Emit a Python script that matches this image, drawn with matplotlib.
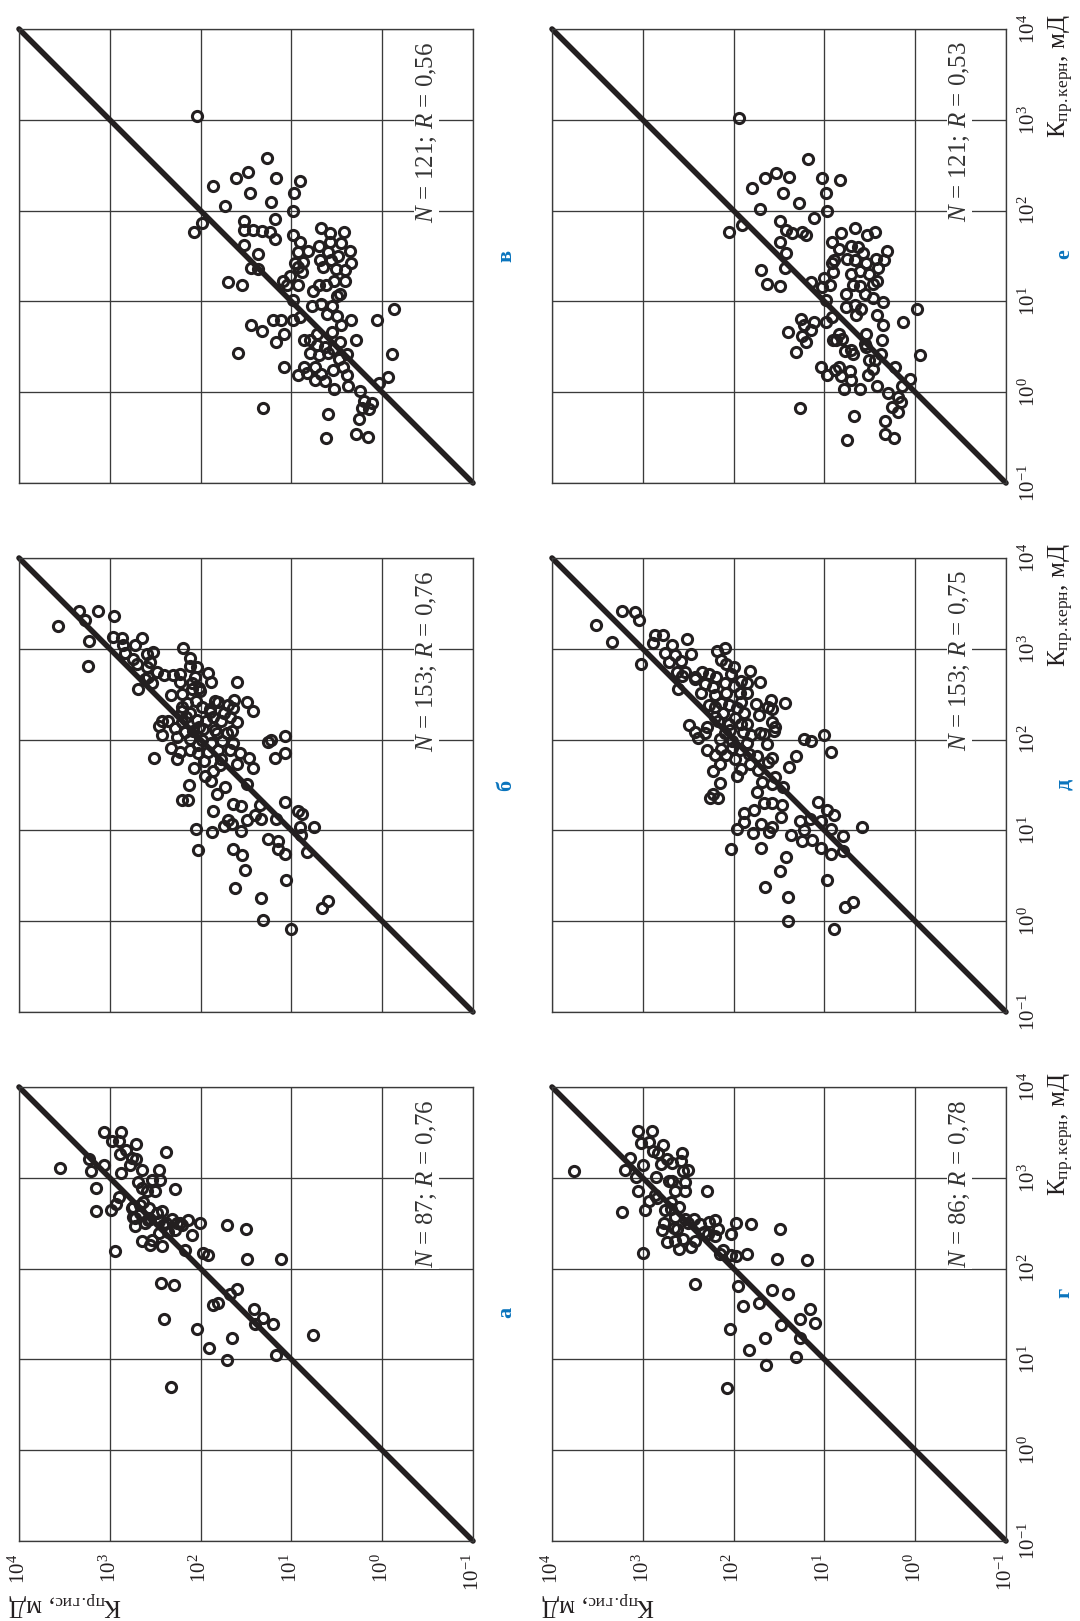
import numpy as np
import matplotlib
matplotlib.use('Agg')
import matplotlib.pyplot as plt
from matplotlib.ticker import FixedLocator, NullLocator

plt.rcParams['font.family'] = ['Liberation Serif', 'DejaVu Serif']
plt.rcParams['mathtext.fontset'] = 'custom'
plt.rcParams['mathtext.rm'] = 'Liberation Serif'
plt.rcParams['mathtext.it'] = 'Liberation Serif:italic'
plt.rcParams['mathtext.bf'] = 'Liberation Serif:bold'

# ---------------- data (log10 of permeability, mD) ----------------
# panel а
a_gis = [3.55,3.23,3.21,3.15,3.15,3.06,3.06,2.98,2.88,2.90,2.89,2.88,2.82,2.71,2.71,2.78,2.65,2.69,2.65,2.59,
         2.50,2.54,2.46,2.45,2.38,2.28,2.90,2.93,2.99,2.74,2.67,2.57,2.43,2.75,2.67,2.61,2.56,2.46,2.38,2.32,
         2.26,2.20,2.14,2.01,1.71,1.50,2.72,2.65,2.54,2.56,2.43,2.46,2.36,2.28,2.10,2.17,2.94,1.97,1.92,1.49,
         1.12,2.44,2.29,1.60,1.68,1.81,1.86,1.41,1.31,1.40,1.20,2.40,2.04,1.65,0.76,1.91,1.71,1.17,2.33,2.76,
         2.63,2.72,2.58,2.48,2.41,2.23,2.76]
a_kern = [3.11,3.21,3.08,2.89,2.63,3.50,3.14,3.41,3.50,3.40,3.26,3.05,3.31,3.37,3.21,3.14,3.09,2.95,2.89,2.86,
          2.86,2.98,3.09,2.98,3.28,2.88,2.79,2.71,2.65,2.68,2.70,2.67,2.63,2.57,2.61,2.50,2.55,2.52,2.50,2.55,
          2.50,2.48,2.53,2.50,2.48,2.44,2.47,2.30,2.32,2.26,2.25,2.39,2.40,2.42,2.37,2.21,2.19,2.17,2.15,2.11,
          2.11,1.84,1.82,1.77,1.72,1.62,1.60,1.56,1.46,1.39,1.39,1.44,1.34,1.24,1.27,1.13,0.99,1.05,0.70,2.67,
          2.73,2.56,2.53,2.61,2.48,2.50,3.22]

# panel б
b_gis = [3.57,3.34,3.27,3.13,2.95,3.23,3.24,2.97,2.87,2.85,2.64,2.72,2.83,2.75,2.59,2.52,2.56,2.70,2.59,2.48,
         2.40,2.61,2.53,2.69,2.19,2.12,2.04,2.23,2.12,1.92,1.89,1.60,2.23,2.09,2.02,2.33,2.21,2.15,2.05,1.84,
         1.70,1.63,1.49,1.42,1.64,1.74,1.90,1.99,2.12,2.21,2.42,2.46,2.42,2.28,2.20,2.04,1.94,1.86,1.68,1.60,
         1.65,1.84,1.97,2.08,2.17,2.12,1.98,1.88,1.76,1.64,1.68,1.81,1.92,2.03,2.12,2.23,2.33,2.26,2.51,1.77,
         1.60,1.47,1.42,2.07,1.95,1.86,1.88,1.73,1.82,1.49,2.13,2.20,2.14,1.86,1.64,1.56,1.35,1.07,0.93,0.88,
         1.40,1.49,1.33,1.17,1.70,1.74,1.65,1.55,1.87,2.05,0.90,0.75,0.89,1.26,1.15,1.15,1.07,0.83,1.64,1.54,
         2.03,1.51,1.06,1.62,1.33,1.31,1.00,0.66,0.60,1.07,1.26,1.22,1.07,1.18,2.30,2.06,2.01,1.81,1.90,1.78,
         2.02,2.16,2.26,2.03,1.82,1.71,1.96,1.79,2.21,2.36,2.58,1.57,2.10]
b_kern = [3.25,3.42,3.32,3.42,3.36,3.09,2.81,3.13,3.12,3.04,3.12,3.04,2.95,2.89,2.94,2.96,2.85,2.83,2.80,2.74,
          2.71,2.67,2.62,2.56,3.01,2.90,2.80,2.72,2.81,2.73,2.63,2.63,2.63,2.62,2.57,2.49,2.50,2.40,2.43,2.42,
          2.38,2.44,2.41,2.32,2.35,2.29,2.30,2.36,2.29,2.31,2.21,2.15,2.05,2.13,2.19,2.22,2.20,2.25,2.25,2.19,
          2.10,2.11,2.12,2.09,2.08,2.01,2.00,1.96,1.99,1.96,1.89,1.88,1.86,1.85,1.89,1.86,1.91,1.79,1.80,1.79,
          1.73,1.80,1.69,1.69,1.60,1.65,1.54,1.48,1.40,1.51,1.50,1.34,1.34,1.21,1.29,1.27,1.28,1.31,1.21,1.18,
          1.17,1.11,1.13,1.13,1.12,1.05,1.07,0.99,0.98,1.01,1.04,1.04,0.95,0.91,0.88,0.80,0.74,0.76,0.79,0.73,
          0.78,0.56,0.45,0.37,0.26,0.01,-0.09,0.15,0.22,2.04,1.97,2.00,1.85,1.80,2.71,2.69,2.54,2.41,2.34,2.21,
          2.14,2.25,2.03,1.94,2.07,2.07,1.76,1.72,2.36,2.21,2.69,1.85,2.56]

# panel в
v_gis = [2.04,1.27,1.61,1.48,1.17,0.90,1.86,1.46,0.97,1.73,1.23,0.98,1.52,1.18,1.98,2.07,1.52,1.42,1.32,1.24,
         1.18,1.52,1.37,1.45,1.37,1.70,1.54,0.98,0.91,0.67,0.58,0.42,0.58,0.70,0.82,0.93,0.36,0.60,0.49,0.68,
         0.56,0.34,0.87,0.93,0.51,0.41,0.88,1.01,1.09,1.05,0.93,0.70,0.62,0.53,0.41,0.50,0.98,0.77,0.67,0.55,
         0.61,0.50,0.34,0.45,-0.13,0.06,0.91,0.98,1.20,1.11,1.45,1.32,1.08,1.17,0.55,0.86,0.80,0.72,0.63,0.47,
         0.29,0.54,0.79,0.70,0.60,0.48,1.59,-0.11,1.08,0.86,0.74,0.93,0.83,0.67,0.54,0.43,0.39,0.74,0.63,0.53,
         0.38,0.25,0.03,-0.06,0.20,0.11,0.22,0.14,1.31,0.60,0.26,0.29,0.16,0.62,0.47,0.76,0.39,0.65,0.45,0.72,
         0.96]
v_kern = [3.04,2.58,2.36,2.42,2.36,2.33,2.27,2.19,2.19,2.05,2.09,2.00,1.89,1.91,1.86,1.76,1.79,1.79,1.78,1.76,
          1.69,1.62,1.52,1.37,1.36,1.21,1.18,1.73,1.65,1.81,1.75,1.76,1.65,1.61,1.56,1.54,1.55,1.54,1.50,1.46,
          1.46,1.42,1.43,1.38,1.36,1.35,1.32,1.28,1.23,1.18,1.18,1.18,1.18,1.23,1.22,1.06,1.02,0.95,0.97,0.95,
          0.86,0.84,0.79,0.74,0.92,0.79,0.83,0.79,0.80,0.79,0.74,0.67,0.64,0.55,0.66,0.57,0.58,0.52,0.50,0.55,
          0.58,0.48,0.43,0.41,0.43,0.37,0.43,0.42,0.28,0.28,0.28,0.19,0.21,0.20,0.24,0.28,0.19,0.13,0.12,0.04,
          0.07,0.01,0.10,0.17,-0.10,-0.12,-0.17,-0.18,-0.17,-0.24,-0.29,-0.46,-0.49,-0.50,1.08,1.12,0.42,1.38,1.64,0.64,
          1.42]

# panel г
g_gis = [3.76,3.20,3.14,3.23,3.05,2.90,3.02,2.93,2.78,2.83,2.73,2.57,2.68,2.80,3.00,2.86,2.68,2.56,2.50,2.54,
         2.64,2.54,3.05,2.29,2.93,2.84,2.98,2.76,2.69,2.60,2.64,2.54,2.44,2.77,2.66,2.37,2.27,2.21,2.17,2.28,
         2.21,1.97,1.81,1.49,2.03,2.56,2.73,2.65,2.60,2.47,3.00,2.12,2.03,1.97,1.85,1.52,1.19,2.43,1.95,1.58,
         1.40,1.72,1.90,1.16,1.27,1.48,1.10,2.04,1.65,1.27,1.83,1.31,1.64,2.07,2.71,2.87,2.69,2.62,2.50,2.33,
         2.42,2.89,3.08,2.58,2.79,2.15]
g_kern = [3.08,3.09,3.22,2.62,3.51,3.51,3.38,3.39,3.36,3.27,3.21,3.27,3.16,3.15,3.14,3.01,2.96,3.07,3.09,2.95,
          2.85,2.86,2.86,2.86,2.74,2.78,2.64,2.64,2.66,2.68,2.57,2.55,2.55,2.50,2.45,2.49,2.51,2.53,2.44,2.38,
          2.36,2.50,2.49,2.44,2.38,2.33,2.29,2.30,2.22,2.24,2.17,2.21,2.15,2.14,2.16,2.11,2.09,1.83,1.81,1.76,
          1.72,1.62,1.59,1.55,1.45,1.38,1.40,1.34,1.24,1.24,1.10,1.03,0.94,0.68,2.97,2.81,2.73,2.44,2.50,2.40,
          2.30,3.30,3.01,3.18,2.42,2.16]

# panel д
d_gis = [3.51,3.34,3.23,3.09,3.04,3.02,2.89,2.87,2.78,2.68,2.51,2.47,2.76,2.65,2.71,2.58,2.57,2.61,2.43,2.35,
         2.27,2.19,2.32,2.36,2.18,2.10,2.14,2.08,2.00,2.03,2.10,1.92,1.82,1.71,1.93,2.00,2.21,2.14,2.21,2.05,
         1.96,1.75,1.59,1.58,1.43,1.72,1.88,2.12,2.20,1.98,2.05,1.92,1.85,1.58,1.56,1.66,1.81,1.90,2.04,2.15,
         2.29,2.49,2.39,2.29,2.21,2.14,2.02,1.93,1.83,1.74,1.63,1.58,1.62,1.82,1.98,2.15,2.23,2.15,1.96,1.31,
         1.39,1.22,1.15,1.00,0.93,1.69,1.58,1.74,1.66,1.58,1.47,2.26,2.17,1.88,1.88,1.96,1.79,1.70,1.58,1.61,
         1.48,1.27,1.16,1.07,0.97,0.89,1.04,0.93,0.59,0.79,1.37,1.25,1.14,1.04,0.93,0.80,1.70,2.03,1.42,1.49,
         0.97,1.65,1.40,0.77,0.68,1.40,0.89,2.27,2.08,1.85,1.62,1.71,2.10,2.42,2.31,2.02,1.85,2.08,1.92,1.73,
         1.54,1.46,2.17,2.42,2.23,2.54,1.85,1.54,2.23,1.77,1.23,2.62,1.92]
d_kern = [3.26,3.07,3.42,3.41,3.32,2.83,3.06,3.15,3.15,3.04,3.11,2.94,2.95,2.93,2.85,2.87,2.70,2.56,2.69,2.74,
          2.72,2.69,2.61,2.51,2.98,3.01,2.88,2.83,2.80,2.72,2.62,2.65,2.76,2.63,2.51,2.59,2.49,2.40,2.36,2.38,
          2.35,2.39,2.44,2.34,2.40,2.27,2.29,2.29,2.25,2.24,2.17,2.17,2.17,2.19,2.10,2.06,2.05,2.08,2.11,2.01,
          2.14,2.16,2.02,1.88,1.83,1.90,1.91,1.88,1.84,1.82,1.95,1.80,1.75,1.73,1.79,1.73,1.65,1.52,1.60,1.82,
          1.70,2.01,1.98,2.05,1.86,1.53,1.51,1.42,1.30,1.30,1.28,1.36,1.36,1.19,1.09,1.02,0.97,1.07,1.04,0.98,
          1.15,1.10,1.13,1.31,1.22,1.17,1.10,1.02,1.04,0.94,0.95,0.88,0.89,0.81,0.74,0.77,0.81,0.79,0.71,0.55,
          0.45,0.38,0.27,0.16,0.21,0.00,-0.09,2.38,2.51,2.51,2.36,2.07,2.07,2.08,2.07,1.99,1.96,1.83,1.68,1.66,
          1.59,1.48,2.21,2.67,2.58,2.74,2.62,2.14,1.40,1.22,1.00,2.74,2.41]

# panel е
e_gis = [1.94,1.18,1.65,1.53,1.39,1.03,0.83,1.80,1.46,0.98,1.28,1.71,0.97,1.49,1.12,1.91,2.05,1.42,1.25,1.20,
         1.49,1.42,1.43,1.70,1.63,1.49,1.15,0.82,0.66,0.53,0.44,0.92,0.84,0.71,0.63,0.31,0.89,0.75,0.66,0.43,
         0.34,0.54,0.41,0.90,0.71,0.51,1.00,0.94,0.69,0.61,0.47,0.42,0.47,0.98,0.76,0.66,0.60,0.65,0.42,-0.02,
         0.13,0.35,0.92,0.98,1.11,1.26,1.22,1.40,1.25,1.20,1.31,0.87,0.81,0.54,0.55,0.37,0.77,0.71,-0.05,0.51,
         0.46,1.04,0.84,0.97,0.82,0.72,0.52,0.78,0.61,0.42,0.15,0.06,0.30,0.16,0.26,0.19,1.27,0.67,0.33,0.33,
         0.23,0.75,0.90,0.69,0.54,0.71,0.38,0.76,0.55,0.36,0.92,0.57,1.03,0.22,0.44,0.88,1.15,1.36,0.61,0.19,
         0.84]
e_kern = [3.02,2.57,2.36,2.41,2.37,2.36,2.34,2.25,2.19,2.19,2.08,2.02,2.00,1.89,1.92,1.84,1.76,1.79,1.76,1.73,
          1.65,1.53,1.37,1.35,1.19,1.17,1.21,1.75,1.81,1.73,1.76,1.65,1.58,1.61,1.60,1.55,1.46,1.47,1.46,1.47,
          1.46,1.42,1.37,1.32,1.30,1.30,1.26,1.18,1.18,1.17,1.19,1.23,1.04,1.02,0.94,0.96,0.92,0.85,0.85,0.92,
          0.77,0.74,0.83,0.77,0.77,0.81,0.74,0.66,0.62,0.55,0.44,0.58,0.59,0.64,0.53,0.57,0.45,0.46,0.41,0.35,
          0.26,0.28,0.28,0.19,0.18,0.23,0.19,0.04,0.04,0.07,0.07,0.15,-0.01,-0.11,-0.16,-0.22,-0.17,-0.26,-0.32,-0.46,
          -0.50,-0.53,0.58,0.42,0.50,0.13,0.42,1.08,1.08,0.99,1.42,1.53,1.16,0.28,0.35,0.24,0.68,1.75,1.34,-0.05,
          0.64]

panel_letters = ['а', 'б', 'в', 'г', 'д', 'е']
panel_notes = [r'$N$ = 87; $R$ = 0,76', r'$N$ = 153; $R$ = 0,76', r'$N$ = 121; $R$ = 0,56',
               r'$N$ = 86; $R$ = 0,78', r'$N$ = 153; $R$ = 0,75', r'$N$ = 121; $R$ = 0,53']
tick_values = [1e-1, 1e0, 1e1, 1e2, 1e3, 1e4]
tick_labels = [r'$10^{-1}$', r'$10^{0}$', r'$10^{1}$', r'$10^{2}$', r'$10^{3}$', r'$10^{4}$']
diag = [1e-1, 1e4]
xlabel_text = r'К$_{\mathregular{пр.керн}}$, мД'
ylabel_text = r'К$_{\mathregular{пр.гис}}$, мД'

data = [(a_gis, a_kern), (b_gis, b_kern), (v_gis, v_kern),
        (g_gis, g_kern), (d_gis, d_kern), (e_gis, e_kern)]

# ---------------- layout (pixels) ----------------
W, H = 1080, 1621
fig = plt.figure(figsize=(W / 100, H / 100), dpi=100)
col_left = [19, 552]
row_top = [1087, 558, 29]   # row 0 = bottom (а, г)
size = 454
grid_col = '#3a3a3a'
blue = '#0a74bd'
ink = '#231f20'
letter_x = [506, 1064]
letter_y = [[1312, 785, 256], [1293, 784, 254]]

for i, (gis, kern) in enumerate(data):
    col = i // 3
    row = i % 3
    left = col_left[col]
    top = row_top[row]
    assert len(gis) == len(kern)
    ax = fig.add_axes([left / W, 1 - (top + size) / H, size / W, size / H])
    ax.set_xscale('log')
    ax.set_yscale('log')
    ax.set_xlim(1e4, 1e-1)
    ax.set_ylim(1e-1, 1e4)
    ax.xaxis.set_major_locator(FixedLocator(tick_values))
    ax.yaxis.set_major_locator(FixedLocator(tick_values))
    ax.xaxis.set_minor_locator(NullLocator())
    ax.yaxis.set_minor_locator(NullLocator())
    ax.grid(True, which='major', color=grid_col, lw=0.95)
    ax.set_axisbelow(True)
    for sp in ax.spines.values():
        sp.set_color(grid_col)
        sp.set_linewidth(0.95)
    ax.tick_params(length=0)

    if row == 0:
        ax.set_xticklabels(tick_labels, rotation=90, fontsize=15, color=ink)
        ax.tick_params(axis='x', pad=9)
    else:
        ax.tick_params(labelbottom=False)
    if col == 1:
        ax.yaxis.tick_right()
        ax.set_yticklabels(tick_labels, fontsize=15, color=ink)
        ax.tick_params(axis='y', pad=9, length=0)
        for lbl in ax.get_yticklabels():
            lbl.set_rotation(90)
            lbl.set_va('center')
            lbl.set_ha('left')
    else:
        ax.tick_params(labelleft=False)

    ax.plot(diag, diag, color=ink, lw=4.0, solid_capstyle='round', clip_on=False, zorder=2)
    ax.plot(10 ** np.array(gis), 10 ** np.array(kern), 'o', ms=7.3, mew=2.2,
            mfc='none', mec=ink, zorder=3)

    ax.text(10 ** -0.49, 10 ** 3.86, panel_notes[i], rotation=90, ha='center', va='top',
            fontsize=18, color='#333333', zorder=4,
            bbox=dict(facecolor='white', edgecolor='none', pad=0.5))

    # panel letter
    fig.text(letter_x[col] / W, 1 - letter_y[col][row] / H, panel_letters[i], rotation=90,
             ha='center', va='center', fontsize=16, fontweight='bold', color=blue)

    if row == 0:
        fig.text((left + 46) / W, 1 - 1603 / H, ylabel_text, rotation=180,
                 ha='center', va='center', fontsize=18, color=ink)
    if col == 1:
        fig.text(1061 / W, 1 - (top - 15) / H, xlabel_text, rotation=90,
                 ha='center', va='top', fontsize=18, color=ink)

fig.savefig('out.png', dpi=100, facecolor='white')
